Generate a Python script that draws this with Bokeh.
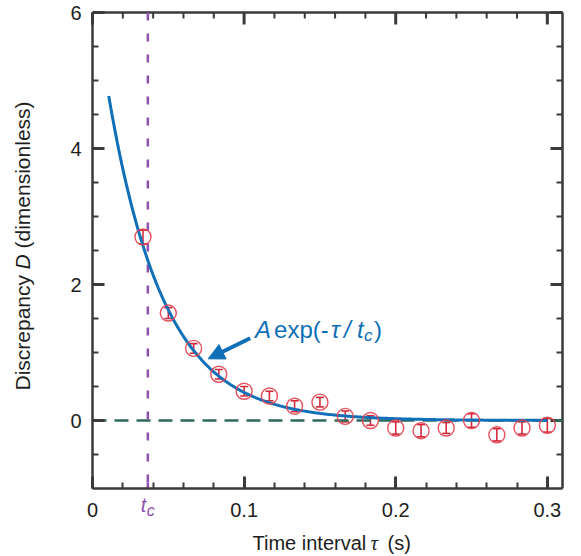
import numpy as np
from bokeh.plotting import figure
from bokeh.models import (ColumnDataSource, Whisker, TeeHead, Label, Arrow,
                          NormalHead, FixedTicker, LinearAxis, Range1d)
from bokeh.embed import file_html
from bokeh.resources import INLINE

# ---------------- data ----------------
tau = [0.0333, 0.05, 0.0667, 0.0833, 0.1, 0.1167, 0.1333, 0.15, 0.1667,
       0.1833, 0.2, 0.2167, 0.2333, 0.25, 0.2667, 0.2833, 0.3]
D = [2.70, 1.58, 1.06, 0.68, 0.43, 0.36, 0.21, 0.27, 0.06,
     0.00, -0.11, -0.15, -0.11, 0.00, -0.21, -0.11, -0.07]
D_err = [0.10, 0.08, 0.07, 0.07, 0.07, 0.07, 0.08, 0.07, 0.08,
         0.07, 0.09, 0.09, 0.08, 0.10, 0.09, 0.09, 0.10]

# fit parameters of A*exp(-tau/t_c)
A = 6.4
t_c = 0.0365
fit_start, fit_end = 0.0107, 0.3

x_lo, x_hi = 0, 0.31
y_lo, y_hi = -1, 6
x_ticks = [0, 0.1, 0.2, 0.3]
x_minor = [0.02, 0.04, 0.06, 0.08, 0.12, 0.14, 0.16, 0.18, 0.22, 0.24, 0.26, 0.28]
y_ticks = [0, 2, 4, 6]
y_minor = [-0.5, 0.5, 1, 1.5, 2.5, 3, 3.5, 4.5, 5, 5.5]

# ---------------- layout (pixels) ----------------
W, H = 578, 556
BOX_L, BOX_R, BOX_T, BOX_B = 92, 562, 12, 488
kx = (BOX_R - BOX_L) / (x_hi - x_lo)     # px per x unit
ky = (BOX_B - BOX_T) / (y_hi - y_lo)     # px per y unit
MAJ, MIN = 12, 6                         # tick lengths in px
BL = 8                                   # baseline correction in px

# ---------------- styles ----------------
FRAME = "#3a3a3a"
TXT = "#1e1e1e"
BLUE = "#0f6fb7"
RED = "#e2404f"
RED_DARK = "#d42a3b"
PURPLE = "#9050b0"
GREEN = "#2e6a5c"
FONT = "Liberation Sans"

p = figure(width=W, height=H, title=None,
           x_range=Range1d(x_lo - BOX_L / kx, x_lo + (W - BOX_L) / kx),
           y_range=Range1d(y_hi + (BOX_T - H) / ky, y_hi + BOX_T / ky),
           x_axis_location=None, y_axis_location=None,
           output_backend="svg", toolbar_location=None, min_border=0)
p.xgrid.visible = False
p.ygrid.visible = False
p.background_fill_color = "white"
p.border_fill_color = "white"
p.outline_line_color = None

xt = FixedTicker(ticks=x_ticks, minor_ticks=x_minor)
yt = FixedTicker(ticks=y_ticks, minor_ticks=y_minor)


def style(ax):
    ax.axis_line_color = FRAME
    ax.axis_line_width = 2.5
    ax.major_tick_in = MAJ
    ax.major_tick_out = 0
    ax.minor_tick_in = MIN
    ax.minor_tick_out = 0
    ax.major_tick_line_color = FRAME
    ax.major_tick_line_width = 3
    ax.minor_tick_line_color = FRAME
    ax.minor_tick_line_width = 2
    ax.major_label_text_font = FONT
    ax.major_label_text_font_size = "20px"
    ax.major_label_text_color = TXT


xax = LinearAxis(ticker=xt, fixed_location=y_lo, bounds=(x_lo, x_hi))
style(xax)
xax.major_label_overrides = {0: "0"}
xax.major_label_standoff = 14
yax = LinearAxis(ticker=yt, fixed_location=x_lo, bounds=(y_lo, y_hi))
style(yax)
yax.major_label_standoff = 11
p.add_layout(xax, "below")
p.add_layout(yax, "left")

# box: top and right edges with inward ticks
p.segment(x0=[x_lo, x_hi], y0=[y_hi, y_hi], x1=[x_hi, x_hi], y1=[y_hi, y_lo],
          line_color=FRAME, line_width=2.5)
for xs, ln, lw in ((x_ticks, MAJ, 3), (x_minor, MIN, 2)):
    p.segment(x0=xs, y0=[y_hi] * len(xs), x1=xs, y1=[y_hi - ln / ky] * len(xs),
              line_color=FRAME, line_width=lw)
for ys, ln, lw in ((y_ticks, MAJ, 3), (y_minor, MIN, 2)):
    p.segment(x0=[x_hi] * len(ys), y0=ys, x1=[x_hi - ln / kx] * len(ys), y1=ys,
              line_color=FRAME, line_width=lw)

# reference lines
p.segment(x0=[x_lo], y0=[0], x1=[x_hi], y1=[0], line_color=GREEN, line_width=2.5,
          line_dash="14 8")
p.segment(x0=[t_c], y0=[y_hi], x1=[t_c], y1=[y_lo], line_color=PURPLE, line_width=2.5,
          line_dash="8 13")
p.segment(x0=[t_c], y0=[y_lo], x1=[t_c], y1=[y_lo + MIN / ky], line_color=PURPLE,
          line_width=2.5)

# fit curve
tau_fit = np.linspace(fit_start, fit_end, 400)
D_fit = A * np.exp(-tau_fit / t_c)
p.line(tau_fit, D_fit, line_color=BLUE, line_width=3)

# data points with error bars
src = ColumnDataSource(dict(x=tau, y=D,
                            lo=[d - e for d, e in zip(D, D_err)],
                            hi=[d + e for d, e in zip(D, D_err)]))
p.add_layout(Whisker(base="x", upper="hi", lower="lo", source=src,
                     line_color=RED_DARK, line_width=1.6,
                     upper_head=TeeHead(size=8, line_color=RED_DARK, line_width=1.6),
                     lower_head=TeeHead(size=8, line_color=RED_DARK, line_width=1.6)))
p.scatter("x", "y", source=src, marker="circle", size=16, fill_color=None,
          line_color=RED, line_width=1.4, line_alpha=0.9)


def lab(x, y, text, xo=0, yo=0, size=20, style="normal", color=TXT, angle=0,
        font=FONT, baseline="alphabetic", align="left"):
    p.add_layout(Label(x=x, y=y, x_offset=xo, y_offset=yo, text=text,
                       text_font_size=f"{size}px", text_font_style=style,
                       text_color=color, angle=angle, text_baseline=baseline,
                       text_align=align, text_font=font))


# axis titles
lab(x_lo, y_lo, "Time interval", xo=160, yo=-62 + BL, size=20)
lab(x_lo, y_lo, "τ", xo=278, yo=-62 + BL, size=21, style="italic", font="Liberation Serif")
lab(x_lo, y_lo, "(s)", xo=295, yo=-62 + BL, size=20)

ang = np.pi / 2
lab(x_lo, y_lo, "Discrepancy", xo=-62 - BL, yo=98, size=21, angle=ang)
lab(x_lo, y_lo, "D", xo=-62 - BL, yo=219, size=21, angle=ang, style="italic")
lab(x_lo, y_lo, "(dimensionless)", xo=-62 - BL, yo=240, size=21, angle=ang)

# t_c tick label
lab(t_c, y_lo, "t", xo=-7, yo=-24 + BL, size=20, style="italic", color=PURPLE)
lab(t_c, y_lo, "c", xo=-1, yo=-30 + BL, size=16, style="italic", color=PURPLE)

# annotation
ann_x, ann_y = 0.1072, 1.22
lab(ann_x, ann_y, "A", xo=0, yo=BL, size=24, style="italic", color=BLUE)
lab(ann_x, ann_y, "exp(-", xo=19, yo=BL, size=24, color=BLUE)
lab(ann_x, ann_y, "τ", xo=76, yo=BL, size=24, style="italic", color=BLUE)
lab(ann_x, ann_y, "/", xo=89, yo=BL, size=24, style="italic", color=BLUE)
lab(ann_x, ann_y, "t", xo=102, yo=BL, size=24, style="italic", color=BLUE)
lab(ann_x, ann_y, "c", xo=109, yo=BL - 6, size=17, style="italic", color=BLUE)
lab(ann_x, ann_y, ")", xo=119, yo=BL, size=24, color=BLUE)

p.add_layout(Arrow(x_start=0.104, y_start=1.21, x_end=0.0763, y_end=0.907,
                   line_color=BLUE, line_width=4,
                   end=NormalHead(size=16, fill_color=BLUE, line_color=BLUE)))

open("out.html", "w").write(file_html(p, INLINE))
